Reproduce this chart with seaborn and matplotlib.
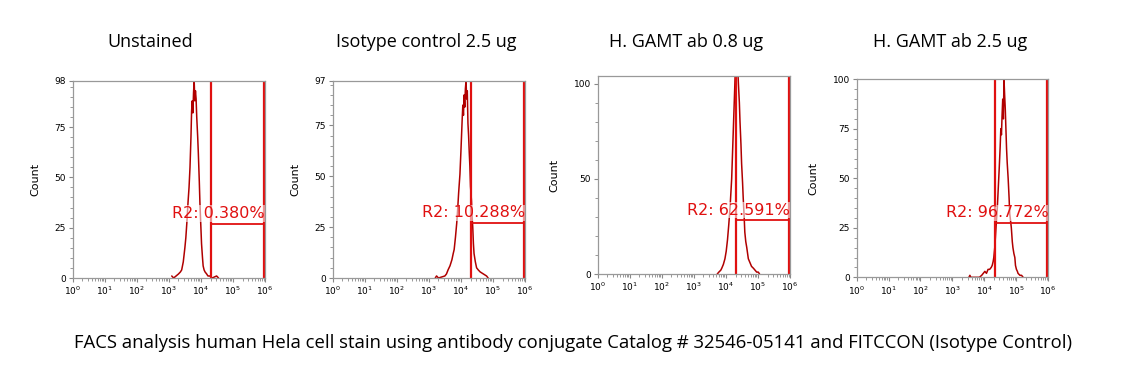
import numpy as np
import pandas as pd
import matplotlib
matplotlib.use("Agg")
import matplotlib.pyplot as plt
from matplotlib.ticker import MultipleLocator, LogLocator, NullFormatter
import seaborn as sns

sns.set_style("ticks")
plt.rcParams['font.family'] = ['DejaVu Sans']

# ---- data (log10 fluorescence, count) ----
titles = ['Unstained', 'Isotype control 2.5 ug', 'H. GAMT ab 0.8 ug', 'H. GAMT ab 2.5 ug']
region_labels = ['R2: 0.380%', 'R2: 10.288%', 'R2: 62.591%', 'R2: 96.772%']

# small spike of events piled up at the low end (panel 1 only)
spike_log = [0.015, 0.015]
spike_cnt = [4, 0]

log1 = [3.09, 3.15, 3.30, 3.36, 3.40, 3.45, 3.50, 3.53, 3.56, 3.60, 3.63, 3.66, 3.69,
        3.71, 3.73, 3.75, 3.77, 3.79, 3.81, 3.83, 3.85, 3.87, 3.90, 3.92, 3.95, 3.97, 4.00, 4.02,
        4.05, 4.07, 4.10, 4.13, 4.18, 4.22, 4.28, 4.35, 4.49, 4.55]
cnt1 = [1, 0, 2, 3, 4, 8, 15, 20, 27, 38, 45, 55, 70,
        83, 88, 82, 92, 98, 88, 93, 89, 80, 70, 62, 48, 37, 25, 17,
        10, 6, 4, 3, 2, 1, 1, 0, 1, 0]

log2 = [3.20, 3.24, 3.30, 3.50, 3.55, 3.60, 3.66, 3.72, 3.76, 3.79, 3.83, 3.87, 3.90, 3.93, 3.97,
        4.00, 4.02, 4.04, 4.06, 4.08, 4.10, 4.12, 4.14, 4.16, 4.18, 4.20, 4.22, 4.24, 4.26, 4.28,
        4.30, 4.33, 4.35, 4.37, 4.39, 4.41, 4.45, 4.49, 4.54, 4.60, 4.70, 4.80, 4.85]
cnt2 = [0, 1, 0, 1, 2, 4, 6, 9, 12, 14, 20, 27, 34, 42, 51,
        62, 70, 78, 85, 80, 90, 84, 93, 97, 88, 92, 76, 70, 62, 55,
        45, 38, 30, 25, 17, 12, 8, 5, 4, 3, 2, 1, 0]

log3 = [3.73, 3.78, 3.84, 3.87, 3.92, 3.97, 4.01, 4.05, 4.09, 4.13, 4.16, 4.18, 4.21, 4.23, 4.26,
        4.28, 4.30, 4.33, 4.35, 4.37, 4.39, 4.42, 4.44, 4.47, 4.49, 4.52, 4.54, 4.57, 4.59, 4.62,
        4.65, 4.70, 4.75, 4.80, 4.86, 4.91, 4.96, 5.01, 5.05]
cnt3 = [0, 1, 2, 3, 5, 8, 12, 18, 26, 35, 44, 50, 65, 75, 90,
        100, 110, 118, 112, 108, 100, 90, 80, 68, 58, 48, 40, 30, 22, 17,
        14, 8, 6, 4, 3, 2, 1, 1, 0]

log4 = [3.52, 3.55, 3.58, 3.85, 3.92, 3.97, 4.02, 4.07, 4.12, 4.17, 4.22, 4.25, 4.28, 4.30, 4.33,
        4.35, 4.38, 4.41, 4.44, 4.47, 4.50, 4.52, 4.54, 4.56, 4.58, 4.60, 4.62, 4.64, 4.66, 4.68,
        4.70, 4.72, 4.75, 4.78, 4.80, 4.83, 4.85, 4.88, 4.90, 4.93, 4.96, 4.98, 5.01, 5.04, 5.06,
        5.12, 5.17, 5.22]
cnt4 = [0, 1, 0, 0, 1, 2, 3, 2, 4, 4, 5, 6, 8, 10, 15,
        20, 28, 35, 45, 55, 66, 75, 72, 82, 90, 80, 100, 92, 85, 75,
        65, 58, 50, 40, 32, 28, 25, 18, 15, 12, 10, 6, 4, 3, 2,
        1, 1, 0]

# gate (log10 left, log10 right, bar height) per panel
gate_left = [4.31, 4.30, 4.30, 4.33]
gate_right = [5.97, 5.97, 5.97, 5.98]
gate_level = [27, 27, 28.5, 27.5]

y_max = [98, 97, 104, 100]
y_major = [[0, 25, 50, 75, 98], [0, 25, 50, 75, 97], [0, 50, 100], [0, 25, 50, 75, 100]]
y_minor = [5, 5, 10, 5]

logs = [log1, log2, log3, log4]
counts = [cnt1, cnt2, cnt3, cnt4]

# axes boxes in pixels: left, right, top, bottom
boxes = [(72.7, 265, 80.7, 278), (332.7, 525, 80.7, 278),
         (597.7, 790, 76, 274), (856.7, 1048, 79.3, 277.3)]
title_x = [150, 426, 686, 950]

W, H = 1139, 378
fig = plt.figure(figsize=(W / 100, H / 100), dpi=100)

hist_color = '#b00000'
gate_color = '#e01010'

for i in range(4):
    l, r, t, b = boxes[i]
    ax = fig.add_axes([l / W, 1 - b / H, (r - l) / W, (b - t) / H])
    df = pd.DataFrame({'x': 10 ** np.array(logs[i]), 'count': counts[i], 'seg': 1})
    if i == 0:
        spike = pd.DataFrame({'x': 10 ** np.array(spike_log), 'count': spike_cnt, 'seg': 0})
        df = pd.concat([spike, df], ignore_index=True)
    ax.set_xscale('log')
    sns.lineplot(data=df, x='x', y='count', units='seg', estimator=None, ax=ax,
                 color=hist_color, lw=1.1, sort=False)

    gl, gr = 10 ** gate_left[i], 10 ** gate_right[i]
    ax.axvline(gl, color=gate_color, lw=1.6)
    ax.axvline(gr, color=gate_color, lw=1.6)
    ax.plot([gl, gr], [gate_level[i], gate_level[i]], color=gate_color, lw=1.3)
    if i == 0:
        ax.plot([gr], [gate_level[i] + 4.5], 'o', color=gate_color, ms=3.5)
    ax.text(gr * 10 ** 0.03, gate_level[i] + 5, region_labels[i], ha='right', va='center',
            color=gate_color, fontsize=11.5,
            bbox=dict(facecolor='white', edgecolor='none', alpha=0.55, pad=0.5))

    ax.set_xlim(1, 1e6)
    ax.set_ylim(0, y_max[i])
    ax.set_xticks([10 ** k for k in range(7)])
    ax.set_xticklabels([r'$10^{%d}$' % k for k in range(7)])
    ax.xaxis.set_minor_locator(LogLocator(base=10, subs=np.arange(2, 10), numticks=20))
    ax.xaxis.set_minor_formatter(NullFormatter())
    ax.set_yticks(y_major[i])
    ax.yaxis.set_minor_locator(MultipleLocator(y_minor[i]))
    ax.tick_params(axis='both', which='major', length=3, width=0.8, color='#888888',
                   labelsize=6.5, pad=2, labelcolor='black')
    ax.tick_params(axis='both', which='minor', length=2, width=0.6, color='#888888')
    for s in ax.spines.values():
        s.set_color('#999999')
        s.set_linewidth(0.9)
        s.set_zorder(3)
    ax.set_xlabel('')
    ax.set_ylabel('Count', fontsize=8, labelpad=10, color='black')

    fig.text(title_x[i] / W, 1 - 42 / H, titles[i], ha='center', va='center',
             fontsize=13, family='Open Sans', color='black')

fig.text(573.5 / W, 1 - 343 / H,
         'FACS analysis human Hela cell stain using antibody conjugate Catalog # 32546-05141 and FITCCON (Isotype Control)',
         ha='center', va='center', fontsize=13.3, family='Open Sans', color='black')

fig.savefig('out.png', dpi=100, facecolor='white')
